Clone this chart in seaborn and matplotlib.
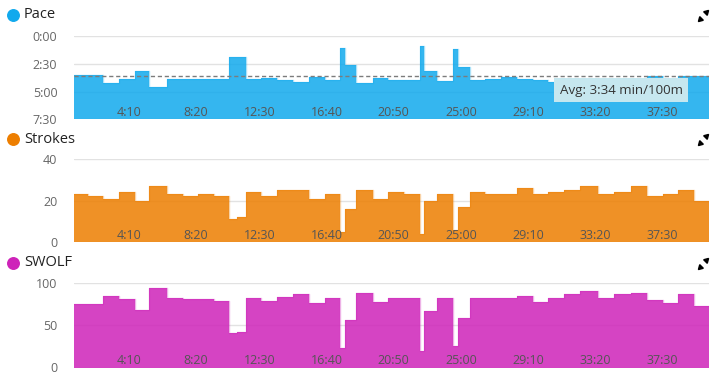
import numpy as np
import pandas as pd
import seaborn as sb
import matplotlib.pyplot as plt
from matplotlib.lines import Line2D

# one entry per pool length (25 m)
durations = [53.3, 53.6, 61.8, 58.5, 52.1, 65.9, 61.8, 56.6, 57.7, 57.7,
             29.0, 31.3, 57.0, 58.5, 59.6, 61.8, 58.5, 55.9, 18.6, 41.0,
             62.2, 58.1, 59.6, 58.5, 16.0, 46.2, 59.6, 20.9, 43.6, 55.9,
             58.5, 59.6, 59.6, 58.1, 58.5, 61.5, 65.2, 59.6, 62.2, 61.8,
             57.4, 58.1, 58.5, 55.9]
pace = [211, 212, 252, 230, 189, 274, 234, 234, 234, 230,
        113, 113, 232, 227, 238, 248, 221, 238, 67, 157,
        252, 227, 238, 238, 54, 187, 241, 70, 169, 238,
        234, 221, 232, 238, 247, 252, 238, 247, 241, 232,
        216, 245, 214, 214]
strokes = [23, 22, 21, 24, 20, 27, 23, 22, 23, 22,
           11, 12, 24, 22, 25, 25, 21, 23, 5, 16,
           25, 21, 24, 23, 4, 20, 23, 6, 17, 24,
           23, 23, 26, 23, 24, 25, 27, 23, 24, 27,
           22, 23, 25, 20]
swolf = [76, 76, 85, 81, 68, 95, 82, 81, 81, 79,
         41, 42, 82, 79, 84, 87, 77, 82, 23, 57,
         88, 78, 82, 82, 20, 67, 82, 25, 59, 82,
         82, 82, 85, 78, 82, 87, 91, 82, 87, 88,
         80, 77, 87, 73]
avg_pace = 214
time_labels = ['4:10', '8:20', '12:30', '16:40', '20:50', '25:00', '29:10', '33:20', '37:30']

pace_ticks = ['0:00', '2:30', '5:00', '7:30']
stroke_ticks = [0, 20, 40]
swolf_ticks = [0, 50, 100]


def to_sec(s):
    m, sec = s.split(':')
    return int(m) * 60 + int(sec)


def fmt(sec):
    return '{:d}:{:02d}'.format(int(sec) // 60, int(sec) % 60)


def draw_panel(ax, data, col, color, bottom):
    ax.bar(data['start'], data[col] - bottom, bottom=bottom, width=data['dur'],
           align='edge', color=color, alpha=0.85, linewidth=0, zorder=2)
    edge = pd.DataFrame({'x': list(data['start']) + [data['end'].iloc[-1]],
                         'y': list(data[col]) + [data[col].iloc[-1]]})
    sb.lineplot(x='x', y='y', data=edge, drawstyle='steps-post', color=color,
                alpha=0.35, lw=1, ax=ax, zorder=2.2)
    ax.set_xlim(0, data['end'].iloc[-1])
    ax.set_xlabel('')
    ax.set_ylabel('')
    ax.set_xticks([to_sec(t) for t in time_labels])
    ax.set_xticklabels(time_labels)
    for lab in ax.get_xticklabels():
        lab.set_ha('right')
    ax.grid(False)
    ax.yaxis.grid(True, color='#e2e2e2', lw=1)
    ax.set_axisbelow(True)
    ax.xaxis.set_zorder(5)
    ax.tick_params(axis='x', length=0, pad=-9.8, labelsize=9, labelcolor='#555555')
    ax.tick_params(axis='y', length=0, pad=12, labelsize=9, labelcolor='#666666')
    sb.despine(ax=ax, left=True, bottom=True)


def expand_icon(fig, x, y):
    # small "expand" glyph: two arrow heads on a diagonal
    W, H = fig.bbox.width, fig.bbox.height
    fig.add_artist(Line2D([(x + 3) / W], [1 - (y - 3.5) / H], marker=(3, 0, -45),
                          markersize=4.2, color='black', transform=fig.transFigure))
    fig.add_artist(Line2D([(x - 3) / W], [1 - (y + 4) / H], marker=(3, 0, 135),
                          markersize=4.2, color='black', transform=fig.transFigure))


def main():
    sb.set_theme(style='white')
    plt.rcParams['font.family'] = ['Open Sans', 'DejaVu Sans']

    data = pd.DataFrame({'dur': durations, 'pace': pace,
                         'strokes': strokes, 'swolf': swolf})
    data['end'] = data['dur'].cumsum()
    data['start'] = data['end'] - data['dur']

    W, H = 717, 376
    fig = plt.figure(figsize=(W / 100, H / 100), dpi=100)
    left, width = 74 / W, 635 / W

    # pace (inverted)
    ax1 = fig.add_axes([left, 1 - 119.3 / H, width, 83.3 / H])
    pace_secs = [to_sec(t) for t in pace_ticks]
    draw_panel(ax1, data, 'pace', '#11a9ed', pace_secs[-1])
    ax1.set_ylim(pace_secs[-1], pace_secs[0])
    ax1.set_yticks(pace_secs)
    ax1.set_yticklabels(pace_ticks)
    ax1.axhline(avg_pace, color='#7c7c7c', ls=(0, (3, 2)), lw=1, zorder=3)
    ax1.text(0.765, 0.35, 'Avg: {} min/100m'.format(fmt(avg_pace)),
             transform=ax1.transAxes, ha='left', va='center', fontsize=9.6,
             color='#333333', zorder=6,
             bbox=dict(boxstyle='square,pad=0.4', fc='#c6e7ef', ec='none'))

    # strokes
    ax2 = fig.add_axes([left, 1 - 242.3 / H, width, 83.3 / H])
    draw_panel(ax2, data, 'strokes', '#ed7e00', 0)
    ax2.set_ylim(stroke_ticks[0], stroke_ticks[-1])
    ax2.set_yticks(stroke_ticks)

    # swolf
    ax3 = fig.add_axes([left, 1 - 367.5 / H, width, 84.2 / H])
    draw_panel(ax3, data, 'swolf', '#ce23b9', 0)
    ax3.set_ylim(swolf_ticks[0], swolf_ticks[-1])
    ax3.set_yticks(swolf_ticks)

    titles = [('Pace', '#11a9ed', 15), ('Strokes', '#ed7e00', 139), ('SWOLF', '#ce23b9', 263)]
    for name, color, ypix in titles:
        y = 1 - ypix / H
        fig.add_artist(Line2D([12.5 / W], [y], marker='o', markersize=8.3,
                              color=color, transform=fig.transFigure))
        fig.text(24 / W, y, name, fontsize=10.5, va='center', ha='left', color='#222222')
        expand_icon(fig, 703, ypix)

    plt.savefig('out.png', dpi=100)


if __name__ == '__main__':
    main()
